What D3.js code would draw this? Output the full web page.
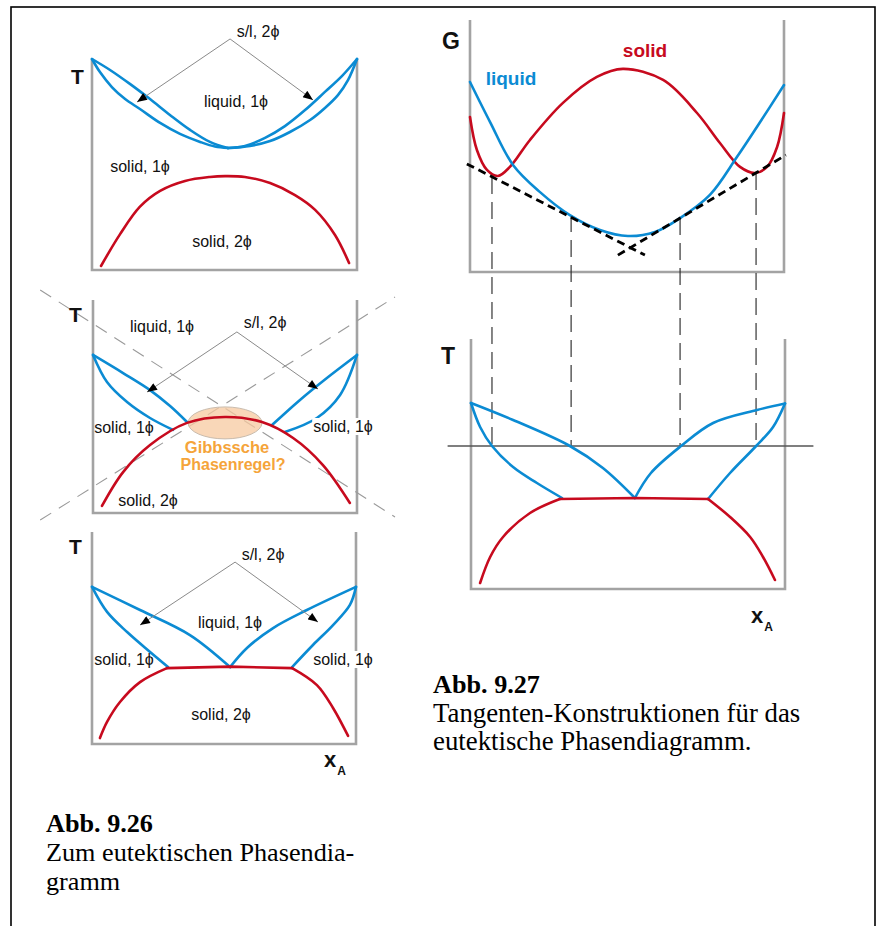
<!DOCTYPE html>
<html><head><meta charset="utf-8">
<script src="https://cdn.jsdelivr.net/npm/d3@7"></script>
<style>body{margin:0;background:#fff}svg{display:block}</style>
</head><body>
<script>
// ---------------- DATA (composition x in [0,1], T or G in [0,1]) ----------------
const frameCorners = [[0,1],[0,0],[1,0],[1,1]];

// Panel 1 (top left): minimum-melting lens + miscibility gap
const p1LiqL = [[0,1],[0.068,0.948],[0.143,0.882],[0.219,0.810],[0.294,0.735],[0.370,0.664],[0.445,0.607],[0.513,0.578]];
const p1SolL = [[0,1],[0.030,0.938],[0.075,0.867],[0.125,0.810],[0.181,0.763],[0.257,0.697],[0.332,0.645],[0.408,0.607],[0.464,0.585],[0.513,0.578]];
const p1LiqR = [[0.513,0.578],[0.577,0.588],[0.653,0.626],[0.728,0.682],[0.804,0.758],[0.879,0.844],[0.943,0.919],[1,1]];
const p1SolR = [[0.513,0.578],[0.596,0.588],[0.672,0.611],[0.747,0.654],[0.823,0.711],[0.879,0.768],[0.928,0.829],[0.966,0.900],[1,1]];
const p1Gap  = [[0.034,0.019],[0.106,0.170],[0.181,0.300],[0.257,0.375],[0.351,0.422],[0.445,0.441],[0.502,0.445],[0.577,0.441],[0.672,0.412],[0.766,0.355],[0.842,0.285],[0.917,0.166],[0.970,0.033]];
const p1Pointer = {apex:[0.521,1.095], tips:[[0.170,0.796],[0.834,0.806]]};

// Panel 2 (middle left): lens meets the gap
const p2LiqL = [[0,0.742],[0.114,0.657],[0.216,0.577],[0.292,0.502],[0.356,0.427]];
const p2SolL = [[0,0.742],[0.053,0.615],[0.129,0.521],[0.216,0.446],[0.303,0.390]];
const p2LiqR = [[0.678,0.413],[0.784,0.531],[0.886,0.634],[1,0.742]];
const p2SolR = [[0.727,0.380],[0.848,0.446],[0.936,0.554],[1,0.742]];
const p2Gap  = [[0.034,0.033],[0.114,0.192],[0.216,0.319],[0.356,0.423],[0.5,0.451],[0.640,0.427],[0.758,0.352],[0.871,0.225],[0.973,0.047]];
const p2Ellipse = {c:[0.5,0.423], r:[0.14,0.075]};
const p2Diag1 = [[-0.2,1.047],[1.144,-0.019]];
const p2Diag2 = [[-0.2,-0.033],[1.144,1.014]];
const p2Pointer = {apex:[0.545,0.850], tips:[[0.205,0.568],[0.852,0.582]]};

// Panel 3 (bottom left): eutectic diagram
const p3LiqL = [[0,0.741],[0.182,0.632],[0.371,0.514],[0.523,0.363]];
const p3SolL = [[0,0.741],[0.057,0.623],[0.133,0.528],[0.220,0.434],[0.288,0.363]];
const p3LiqR = [[0.523,0.363],[0.587,0.453],[0.686,0.547],[0.814,0.632],[1,0.741]];
const p3SolR = [[0.758,0.363],[0.837,0.467],[0.913,0.561],[0.977,0.656],[1,0.741]];
const p3RedL = [[0.030,0.028],[0.057,0.104],[0.106,0.198],[0.182,0.292],[0.284,0.358]];
const p3RedFlat = [[0.284,0.358],[0.523,0.365],[0.758,0.358]];
const p3RedR = [[0.758,0.358],[0.852,0.278],[0.913,0.170],[0.970,0.038]];
const p3Pointer = {apex:[0.542,0.858], tips:[[0.182,0.561],[0.856,0.575]]};

// G(x) panel (top right)
const gLiquid = [[0,0.754],[0.064,0.595],[0.137,0.425],[0.223,0.317],[0.318,0.226],[0.414,0.167],[0.503,0.143],[0.589,0.159],[0.669,0.214],[0.764,0.306],[0.850,0.456],[0.924,0.595],[1,0.742]];
const gSolid = [[0,0.615],[0.022,0.484],[0.054,0.405],[0.089,0.381],[0.127,0.417],[0.191,0.524],[0.296,0.671],[0.404,0.774],[0.487,0.806],[0.615,0.762],[0.723,0.631],[0.796,0.512],[0.860,0.417],[0.908,0.393],[0.946,0.417],[0.978,0.496],[1,0.631]];
const gTangent1 = [[-0.010,0.429],[0.557,0.067]];
const gTangent2 = [[0.471,0.067],[1.006,0.464]];
const tangentX = [0.070,0.322,0.669,0.911];
const tangentG = [0.377,0.226,0.214,0.393];

// T(x) panel (bottom right)
const tLevel = 0.572;
const tLineX = [-0.073,1.089];
const tLiqL = [[0,0.744],[0.134,0.676],[0.315,0.572],[0.420,0.484],[0.522,0.364]];
const tSolL = [[0,0.744],[0.029,0.648],[0.067,0.572],[0.134,0.488],[0.210,0.424],[0.290,0.364]];
const tLiqR = [[0.522,0.364],[0.573,0.464],[0.669,0.572],[0.771,0.664],[0.911,0.716],[1,0.742]];
const tSolR = [[0.755,0.360],[0.825,0.464],[0.908,0.572],[0.962,0.648],[1,0.742]];
const tRedL = [[0.029,0.024],[0.061,0.128],[0.102,0.208],[0.188,0.304],[0.283,0.360]];
const tRedFlat = [[0.283,0.360],[0.522,0.364],[0.755,0.360]];
const tRedR = [[0.755,0.360],[0.825,0.288],[0.889,0.208],[0.930,0.128],[0.968,0.036]];

// Texts
const phaseLabels = {sl:"s/l, 2ϕ", liq:"liquid, 1ϕ", sol1:"solid, 1ϕ", sol2:"solid, 2ϕ"};
const gibbsText = ["Gibbssche","Phasenregel?"];
const captionLeft = ["Abb. 9.26","Zum eutektischen Phasendia-","gramm"];
const captionRight = ["Abb. 9.27","Tangenten-Konstruktionen für das","eutektische Phasendiagramm."];

// ---------------- DRAWING ----------------
const W=878,H=926;
const BLUE="#0b8bd3", RED="#c70a1e", AX="#a3a3a3", ORANGE="#f5a43a";
const svg=d3.select("body").append("svg").attr("width",W).attr("height",H)
  .style("font-family","'Liberation Sans', Arial, sans-serif");
svg.append("rect").attr("x",11).attr("y",7).attr("width",864).attr("height",H+20)
  .attr("fill","none").attr("stroke","#000").attr("stroke-width",1.6);

const defs=svg.append("defs");
defs.append("marker").attr("id","arr").attr("viewBox","0 0 10 8").attr("refX",10).attr("refY",4)
  .attr("markerWidth",11).attr("markerHeight",8).attr("markerUnits","userSpaceOnUse").attr("orient","auto")
  .append("path").attr("d","M0,0L10,4L0,8z").attr("fill","#000");

function mk(b){return {x:d3.scaleLinear().domain([0,1]).range([b.l,b.r]), y:d3.scaleLinear().domain([0,1]).range([b.b,b.t])};}
function path(s,data,color,w,cv,dash){
  const p=svg.append("path").datum(data)
    .attr("d",d3.line().x(d=>s.x(d[0])).y(d=>s.y(d[1])).curve(cv||d3.curveCatmullRom.alpha(0.5)))
    .attr("fill","none").attr("stroke",color).attr("stroke-width",w)
    .attr("stroke-linejoin","round").attr("stroke-linecap",dash?"butt":"round");
  if(dash) p.attr("stroke-dasharray",dash);
  return p;
}
function frame(s){ path(s,frameCorners,AX,2.6,d3.curveLinear).attr("stroke-linecap","butt").attr("stroke-linejoin","miter"); }
function text(x,y,t,o){
  o=o||{};
  const e=svg.append("text").attr("x",x).attr("y",y).text(t)
    .attr("font-size",o.size||16).attr("text-anchor",o.anchor||"middle")
    .attr("fill",o.fill||"#111").attr("font-weight",o.bold?"bold":"normal");
  if(o.family) e.attr("font-family",o.family);
  return e;
}
function bgText(x,y,t){
  const e=text(x,y,t); const bb=e.node().getBBox();
  svg.insert("rect",()=>e.node()).attr("x",bb.x-1).attr("y",bb.y).attr("width",bb.width+2).attr("height",bb.height).attr("fill","#fff");
}
function pointer(s,p){
  p.tips.forEach(t=>{
    svg.append("line").attr("x1",s.x(p.apex[0])).attr("y1",s.y(p.apex[1]))
      .attr("x2",s.x(t[0])).attr("y2",s.y(t[1])).attr("stroke","#8a8a8a").attr("stroke-width",1)
      .attr("marker-end","url(#arr)");
  });
}
function xA(x,y){
  const e=svg.append("text").attr("x",x).attr("y",y).attr("font-size",22).attr("font-weight","bold").attr("fill","#111");
  e.append("tspan").text("x");
  e.append("tspan").text("A").attr("font-size",12).attr("dy",8).attr("dx",1);
}

// Panel 1
const s1=mk({l:92,r:357,b:270,t:59});
frame(s1);
[p1LiqL,p1SolL,p1LiqR,p1SolR].forEach(d=>path(s1,d,BLUE,2.6));
path(s1,p1Gap,RED,2.6);
pointer(s1,p1Pointer);
text(71,84,"T",{anchor:"start",size:21,bold:true});
text(258,37,phaseLabels.sl);
text(236,107,phaseLabels.liq);
text(140,172,phaseLabels.sol1);
text(222,247,phaseLabels.sol2);

// Panel 2
const s2=mk({l:93,r:357,b:513,t:300});
frame(s2);
[p2Diag1,p2Diag2].forEach(d=>path(s2,d,"#9a9a9a",1.1,d3.curveLinear,"13,9"));
svg.append("ellipse").attr("cx",s2.x(p2Ellipse.c[0])).attr("cy",s2.y(p2Ellipse.c[1]))
  .attr("rx",s2.x(p2Ellipse.r[0])-s2.x(0)).attr("ry",s2.y(0)-s2.y(p2Ellipse.r[1]))
  .attr("fill","#f7caa0").attr("fill-opacity",0.75).attr("stroke","#c9bcae").attr("stroke-width",1);
[p2LiqL,p2SolL,p2LiqR,p2SolR].forEach(d=>path(s2,d,BLUE,2.6));
path(s2,p2Gap,RED,2.6);
pointer(s2,p2Pointer);
text(69,322,"T",{anchor:"start",size:21,bold:true});
text(162,332,phaseLabels.liq);
text(265,328,phaseLabels.sl);
text(124,433,phaseLabels.sol1);
bgText(343,432,phaseLabels.sol1);
text(148,506,phaseLabels.sol2);
text(227,453,gibbsText[0],{bold:true,fill:ORANGE,size:16.5});
text(233,470,gibbsText[1],{bold:true,fill:ORANGE,size:16});

// Panel 3
const s3=mk({l:92,r:356,b:744,t:532});
frame(s3);
[p3LiqL,p3SolL,p3LiqR,p3SolR].forEach(d=>path(s3,d,BLUE,2.6));
path(s3,p3RedL,RED,2.6); path(s3,p3RedFlat,RED,2.6,d3.curveLinear); path(s3,p3RedR,RED,2.6);
pointer(s3,p3Pointer);
text(69,554,"T",{anchor:"start",size:21,bold:true});
text(263,560,phaseLabels.sl);
text(230,628,phaseLabels.liq);
text(124,665,phaseLabels.sol1);
bgText(343,665,phaseLabels.sol1);
text(221,720,phaseLabels.sol2);
xA(324,767);

// G panel
const sG=mk({l:470,r:784,b:272,t:20});
const sT=mk({l:471,r:785,b:589,t:339});
frame(sG);
frame(sT);
tangentX.forEach((x,i)=>{
  svg.append("line").attr("x1",sG.x(x)).attr("x2",sG.x(x)).attr("y1",sG.y(tangentG[i])).attr("y2",sT.y(tLevel))
    .attr("stroke","#222").attr("stroke-width",1.1).attr("stroke-dasharray","17,8");
});
path(sG,gSolid,RED,2.6);
path(sG,gLiquid,BLUE,2.6);
[gTangent1,gTangent2].forEach(d=>path(sG,d,"#000",2.8,d3.curveLinear,"8,5"));
text(442,49,"G",{anchor:"start",size:23,bold:true});
text(645,57,"solid",{size:19,bold:true,fill:RED});
text(511,85,"liquid",{size:19,bold:true,fill:BLUE});

// T panel
path(sT,[[tLineX[0],tLevel],[tLineX[1],tLevel]],"#555",1.3,d3.curveLinear);
[tLiqL,tSolL,tLiqR,tSolR].forEach(d=>path(sT,d,BLUE,2.6));
path(sT,tRedL,RED,2.6); path(sT,tRedFlat,RED,2.6,d3.curveLinear); path(sT,tRedR,RED,2.6);
text(441,364,"T",{anchor:"start",size:23,bold:true});
xA(751,623);

// Captions
const serif="'Liberation Serif','Times New Roman',serif";
captionLeft.forEach((t,i)=>text(46,832+i*29,t,{anchor:"start",size:26.2,bold:i===0,family:serif,fill:"#000"}));
captionRight.forEach((t,i)=>text(433,693+i*28.5,t,{anchor:"start",size:i===0?26.2:26.8,bold:i===0,family:serif,fill:"#000"}));
</script>
</body></html>
